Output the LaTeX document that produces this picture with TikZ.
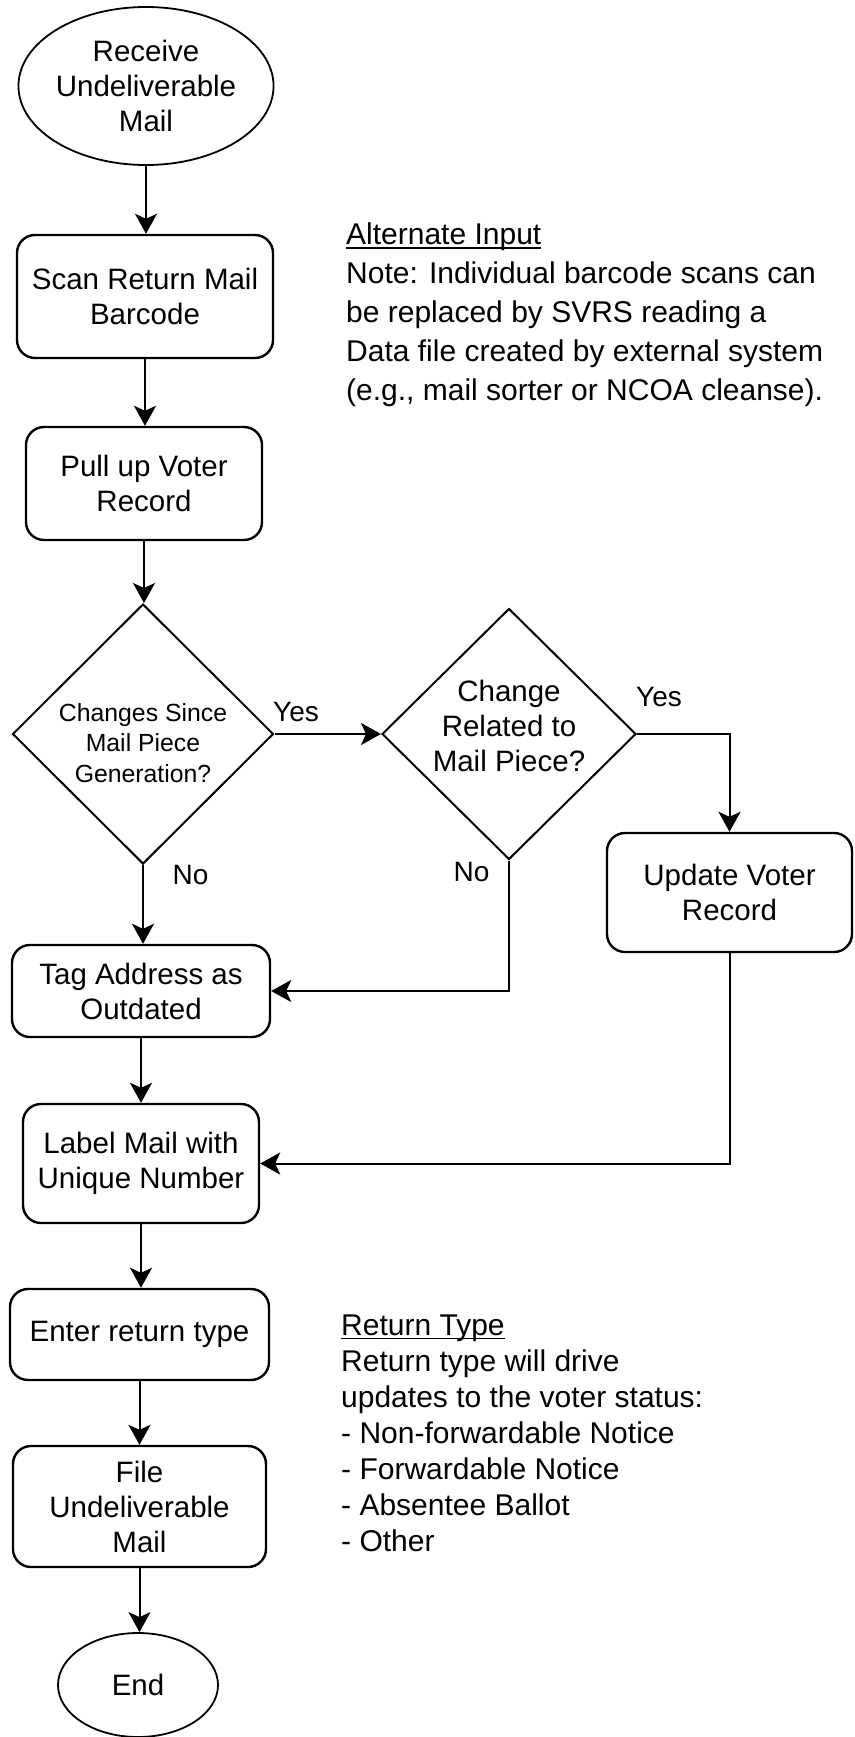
\documentclass[tikz,border=0pt]{standalone}
\usepackage{fontspec}
\setmainfont{Liberation Sans}
\usetikzlibrary{shapes.geometric,arrows.meta}

% underlined heading with the rule just below the baseline
\newcommand\ultext[1]{\sbox0{#1}\rlap{\rule[-4pt]{\wd0}{1.6pt}}\usebox0}

\begin{document}
\begin{tikzpicture}[x=1pt,y=-1pt,
  every node/.style={font=\fontsize{29.5}{35}\selectfont},
  proc/.style={draw, line width=2.4pt, rounded corners=18pt, align=center, inner sep=0pt},
  term/.style={draw, ellipse, line width=1.8pt, align=center, inner sep=0pt},
  decision/.style={draw, diamond, line width=2pt, inner sep=0pt},
  dtext/.style={align=center, inner sep=0pt},
  flow/.style={line width=2pt, -{Stealth[length=20pt,width=22pt,inset=5pt]}},
  lbl/.style={inner sep=0pt, font=\fontsize{28}{34}\selectfont},
  note/.style={align=left, anchor=north west, inner sep=0pt}]

\useasboundingbox (0,0) rectangle (854,1737);

% main column
\node[term, minimum width=240pt, minimum height=158pt] (start) at (146,86) {Receive\\Undeliverable\\Mail};
\node[proc, minimum width=256pt, minimum height=123pt] (scan) at (145,296.5) {Scan Return Mail\\Barcode};
\node[proc, minimum width=236pt, minimum height=113pt] (pull) at (144,483.5) {Pull up Voter\\Record};

% decisions
\node[decision, minimum width=261pt, minimum height=260pt] (chg) at (143,734) {};
\node[dtext, font=\fontsize{24.8}{30.5}\selectfont] (chgtxt) at (143,743) {Changes Since\\Mail Piece\\Generation?};
\node[decision, minimum width=254pt, minimum height=251pt] (rel) at (509,734) {};
\node[dtext] (reltxt) at (509,725.5) {Change\\Related to\\Mail Piece?};

\node[proc, minimum width=245pt, minimum height=119pt] (update) at (729.5,892.5) {Update Voter\\Record};
\node[proc, minimum width=258pt, minimum height=92pt] (tag) at (141,991) {Tag Address as\\Outdated};
\node[proc, minimum width=236pt, minimum height=119pt] (label) at (141,1163.5) {Label Mail with\\Unique Number};
\node[proc, minimum width=259pt, minimum height=91pt] (enter) at (139.5,1334.5) {Enter return type};
\node[proc, minimum width=253pt, minimum height=121pt] (file) at (139.5,1506.5) {File\\Undeliverable\\Mail};
\node[term, minimum width=160pt, minimum height=104pt] (end) at (138,1685) {End};

% branch labels
\node[lbl] (yes1) at (296,712) {Yes};
\node[lbl] (no1) at (190.5,875) {No};
\node[lbl] (yes2) at (659,697) {Yes};
\node[lbl] (no2) at (471.5,872) {No};

% side notes
\node[note, font=\fontsize{30}{39}\selectfont] (altnote) at (346,222.6)
  {\ultext{Alternate Input}\\
   Note: Individual barcode scans can\\
   be replaced by SVRS reading a\\
   Data file created by external system\\
   (e.g., mail sorter or NCOA cleanse).};
\node[note, font=\fontsize{30}{36}\selectfont] (retnote) at (341,1314.6)
  {\ultext{Return Type}\\
   Return type will drive\\
   updates to the voter status:\\
   - Non-forwardable Notice\\
   - Forwardable Notice\\
   - Absentee Ballot\\
   - Other};

% connectors
\draw[flow] (start.south) -- (start.south |- scan.north);
\draw[flow] (scan.south) -- (scan.south |- pull.north);
\draw[flow] (pull.south) -- (pull.south |- chg.north);
\draw[flow] (chg.east) -- (rel.west);
\draw[flow] (rel.east) -| (update.north);
\draw[flow] (chg.south) -- (chg.south |- tag.north);
\draw[flow] (rel.south) |- (tag.east);
\draw[flow] (update.south) |- (label.east);
\draw[flow] (tag.south) -- (tag.south |- label.north);
\draw[flow] (label.south) -- (label.south |- enter.north);
\draw[flow] (enter.south) -- (enter.south |- file.north);
\draw[flow] (file.south) -- (file.south |- end.north);
\end{tikzpicture}
\end{document}
